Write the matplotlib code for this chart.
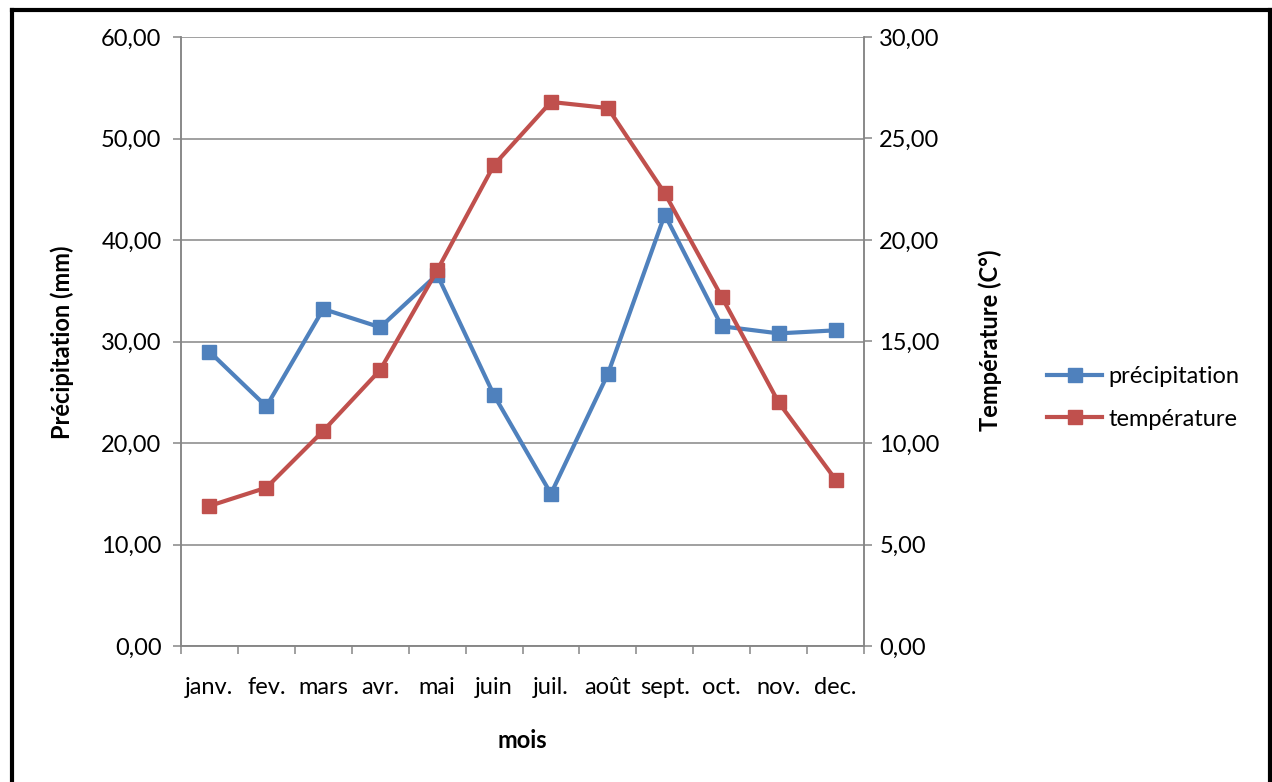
import matplotlib
matplotlib.use("Agg")
import matplotlib.pyplot as plt
from matplotlib.ticker import FuncFormatter, MultipleLocator
from matplotlib.lines import Line2D

plt.rcParams['font.family'] = ['Lato', 'DejaVu Sans']

mois = ["janv.", "fev.", "mars", "avr.", "mai", "juin", "juil.", "août",
        "sept.", "oct.", "nov.", "dec."]
precipitation = [29.0, 23.6, 33.2, 31.4, 36.6, 24.7, 15.0, 26.8, 42.5, 31.5, 30.8, 31.1]
temperature = [6.9, 7.8, 10.6, 13.6, 18.5, 23.7, 26.8, 26.5, 22.3, 17.2, 12.0, 8.2]

bleu = "#4F81BD"
rouge = "#C0504D"
gris = "#868686"
fs = 17

virgule = FuncFormatter(lambda v, p: f"{v:.2f}".replace(".", ","))

fig = plt.figure(figsize=(12.72, 7.82), dpi=100)
ax = fig.add_axes([181 / 1272, 1 - 646 / 782, (864 - 181) / 1272, (646 - 37) / 782])
ax2 = ax.twinx()

x = list(range(len(mois)))
l1, = ax.plot(x, precipitation, color=bleu, lw=3, marker="s", ms=10, label="précipitation")
l2, = ax2.plot(x, temperature, color=rouge, lw=3, marker="s", ms=10, label="température")

ax.set_xlim(-0.5, 11.5)
ax.set_ylim(0, 60)
ax2.set_ylim(0, 30)
ax.yaxis.set_major_locator(MultipleLocator(10))
ax2.yaxis.set_major_locator(MultipleLocator(5))
ax.yaxis.set_major_formatter(virgule)
ax2.yaxis.set_major_formatter(virgule)
ax.grid(axis="y", color=gris, lw=1.1)
ax.set_axisbelow(True)

# categories centred, ticks at the boundaries
ax.set_xticks(x)
ax.set_xticklabels(mois)
ax.set_xticks([i - 0.5 for i in range(len(mois) + 1)], minor=True)
ax.tick_params(axis="x", which="major", length=0, pad=22, labelsize=fs)
ax.tick_params(axis="x", which="minor", length=6, color=gris, width=1.1)
ax.tick_params(axis="y", length=6, color=gris, width=1.1, pad=8, labelsize=fs)
ax2.tick_params(axis="y", length=6, color=gris, width=1.1, pad=5, labelsize=fs)

for a in (ax, ax2):
    a.spines["top"].set_visible(False)
    for s in ["left", "right", "bottom"]:
        a.spines[s].set_color(gris)
        a.spines[s].set_linewidth(1.1)

fig.text(522 / 1272, 1 - 741 / 782, "mois", fontsize=fs, fontweight="bold", ha="center", va="center")
fig.text(62 / 1272, 1 - 342 / 782, "Précipitation (mm)", fontsize=fs, fontweight="bold",
         rotation=90, ha="center", va="center")
fig.text(990 / 1272, 1 - 340 / 782, "Température (C°)", fontsize=fs, fontweight="bold",
         rotation=90, ha="center", va="center")

fig.legend([l1, l2], ["précipitation", "température"], loc="center left",
           bbox_to_anchor=(1038 / 1272, 1 - 398 / 782), frameon=False, fontsize=fs,
           borderaxespad=0, handlelength=2.3, handletextpad=0.3, labelspacing=0.9)

# black frame (left, top, right)
fig.add_artist(Line2D([12 / 1272, 12 / 1272], [0, 1 - 10 / 782], color="black", lw=3))
fig.add_artist(Line2D([12 / 1272, 1270 / 1272], [1 - 10 / 782, 1 - 10 / 782], color="black", lw=3))
fig.add_artist(Line2D([1270 / 1272, 1270 / 1272], [0, 1 - 10 / 782], color="black", lw=3))

fig.savefig("out.png", dpi=100)
